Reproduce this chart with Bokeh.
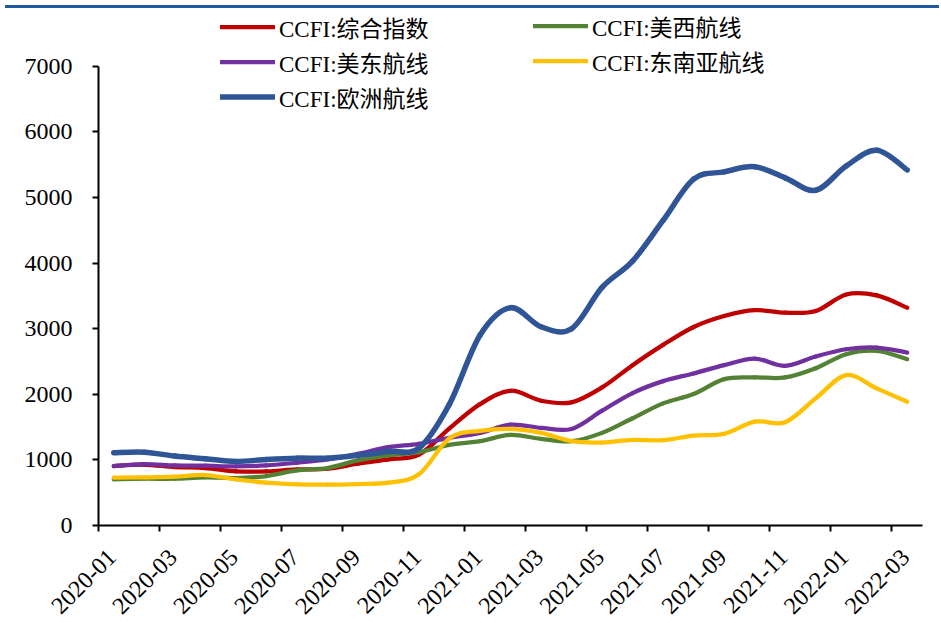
from bokeh.plotting import figure
from bokeh.models import (Range1d, FixedTicker, Legend, LegendItem, ColumnDataSource, Div)
from bokeh.layouts import column
from bokeh.embed import file_html
from bokeh.resources import INLINE
import math

months = ["2020-01", "2020-02", "2020-03", "2020-04", "2020-05", "2020-06", "2020-07",
          "2020-08", "2020-09", "2020-10", "2020-11", "2020-12", "2021-01", "2021-02",
          "2021-03", "2021-04", "2021-05", "2021-06", "2021-07", "2021-08", "2021-09",
          "2021-10", "2021-11", "2021-12", "2022-01", "2022-02", "2022-03"]

ccfi_composite = [906, 926, 891, 876, 825, 825, 855, 865, 941, 1007, 1080, 1480, 1850, 2054,
                  1902, 1878, 2105, 2444, 2753, 3026, 3193, 3283, 3244, 3269, 3522, 3507, 3320]
ccfi_us_west = [703, 713, 713, 734, 724, 754, 840, 876, 992, 1068, 1118, 1230, 1285, 1381,
                1321, 1285, 1412, 1635, 1862, 2004, 2231, 2257, 2257, 2398, 2611, 2661, 2535]
ccfi_us_east = [906, 936, 916, 911, 901, 916, 956, 1007, 1093, 1194, 1245, 1336, 1410, 1538,
                1488, 1472, 1750, 2019, 2201, 2318, 2444, 2545, 2434, 2576, 2687, 2712, 2636]
ccfi_se_asia = [729, 734, 744, 769, 703, 653, 627, 622, 632, 653, 780, 1330, 1442, 1472,
                1412, 1285, 1265, 1305, 1300, 1371, 1397, 1584, 1574, 1938, 2292, 2090, 1887]
ccfi_europe = [1108, 1118, 1058, 1017, 976, 1007, 1027, 1027, 1068, 1128, 1180, 1850, 2900, 3320,
               3030, 3000, 3630, 4030, 4650, 5280, 5390, 5470, 5300, 5110, 5480, 5720, 5420]

series_names = ["CCFI:综合指数", "CCFI:美西航线", "CCFI:美东航线", "CCFI:东南亚航线", "CCFI:欧洲航线"]
series_values = [ccfi_composite, ccfi_us_west, ccfi_us_east, ccfi_se_asia, ccfi_europe]
series_colors = ["#C00000", "#548235", "#7030A0", "#FFC000", "#2F5597"]
series_widths = [4.25, 4.25, 4.25, 4.25, 5.5]

FONT = "Liberation Serif, Noto Sans CJK SC"

Y_MAX = 7000
Y_TOP = Y_MAX * 514 / 461   # head room for the legend above the 7000 line

p = figure(width=940, height=610, output_backend="svg", toolbar_location=None,
           x_range=Range1d(0, len(months)), y_range=Range1d(0, Y_TOP),
           min_border_left=98, min_border_right=18, min_border_top=0, min_border_bottom=96)
p.outline_line_color = None
p.grid.visible = False
p.background_fill_color = "white"

xs = [i + 0.5 for i in range(len(months))]

def smooth_source(vals):
    n = len(vals)
    d = dict(x0=[], y0=[], x1=[], y1=[], cx0=[], cy0=[], cx1=[], cy1=[])
    for i in range(n - 1):
        pm = i - 1 if i > 0 else 0
        pp = i + 2 if i + 2 < n else n - 1
        d["x0"].append(xs[i]); d["y0"].append(vals[i])
        d["x1"].append(xs[i + 1]); d["y1"].append(vals[i + 1])
        d["cx0"].append(xs[i] + (xs[i + 1] - xs[pm]) / 6)
        d["cy0"].append(vals[i] + (vals[i + 1] - vals[pm]) / 6)
        d["cx1"].append(xs[i + 1] - (xs[pp] - xs[i]) / 6)
        d["cy1"].append(vals[i + 1] - (vals[pp] - vals[i]) / 6)
    return ColumnDataSource(d)

renderers = []
for vals, col, w in zip(series_values, series_colors, series_widths):
    r = p.bezier(x0="x0", y0="y0", x1="x1", y1="y1", cx0="cx0", cy0="cy0", cx1="cx1", cy1="cy1",
                 source=smooth_source(vals), line_color=col, line_width=w, line_cap="round")
    renderers.append(r)

# axes
tick_pos = list(range(0, len(months), 2))
label_pos = [t + 0.45 for t in tick_pos]
p.xaxis.ticker = FixedTicker(ticks=label_pos, minor_ticks=tick_pos)
p.xaxis.major_label_overrides = {t + 0.45: months[t] for t in tick_pos}
p.xaxis.major_label_orientation = math.pi / 4
p.xaxis.major_tick_out = 0
p.xaxis.major_tick_in = 0
p.xaxis.minor_tick_out = 6
p.xaxis.minor_tick_in = 0
p.xaxis.minor_tick_line_color = "black"
p.xaxis.minor_tick_line_width = 2
p.xaxis.major_label_standoff = 22

p.yaxis.ticker = FixedTicker(ticks=list(range(0, Y_MAX + 1, 1000)))
p.yaxis.bounds = (0, Y_MAX)
p.yaxis.major_tick_out = 6
p.yaxis.major_tick_in = 0
p.yaxis.minor_tick_out = 0
p.yaxis.minor_tick_in = 0
p.yaxis.major_label_standoff = 20
p.yaxis.major_tick_line_width = 2

for ax in (p.xaxis, p.yaxis):
    ax.axis_line_color = "black"
    ax.axis_line_width = 2
    ax.major_tick_line_color = "black"
    ax.major_label_text_font = FONT
    ax.major_label_text_font_size = "24px"
    ax.major_label_text_color = "black"

def make_legend(idx, loc):
    return Legend(items=[LegendItem(label=series_names[i], renderers=[renderers[i]]) for i in idx],
                  location=loc, orientation="vertical", padding=0, spacing=0, margin=0,
                  glyph_width=55, glyph_height=35, label_height=35, label_standoff=4,
                  label_text_font=FONT, label_text_font_size="23px", label_text_color="black",
                  border_line_color=None, background_fill_alpha=0)

p.add_layout(make_legend([0, 2, 4], (122, 411)))
p.add_layout(make_legend([1, 3], (435, 447)))

# thin blue header rule above the chart
rule = Div(width=934, height=3, styles={"background-color": "#1F5A9E"})

layout = column(rule, p, spacing=0)
open("out.html", "w").write(file_html(layout, INLINE))
